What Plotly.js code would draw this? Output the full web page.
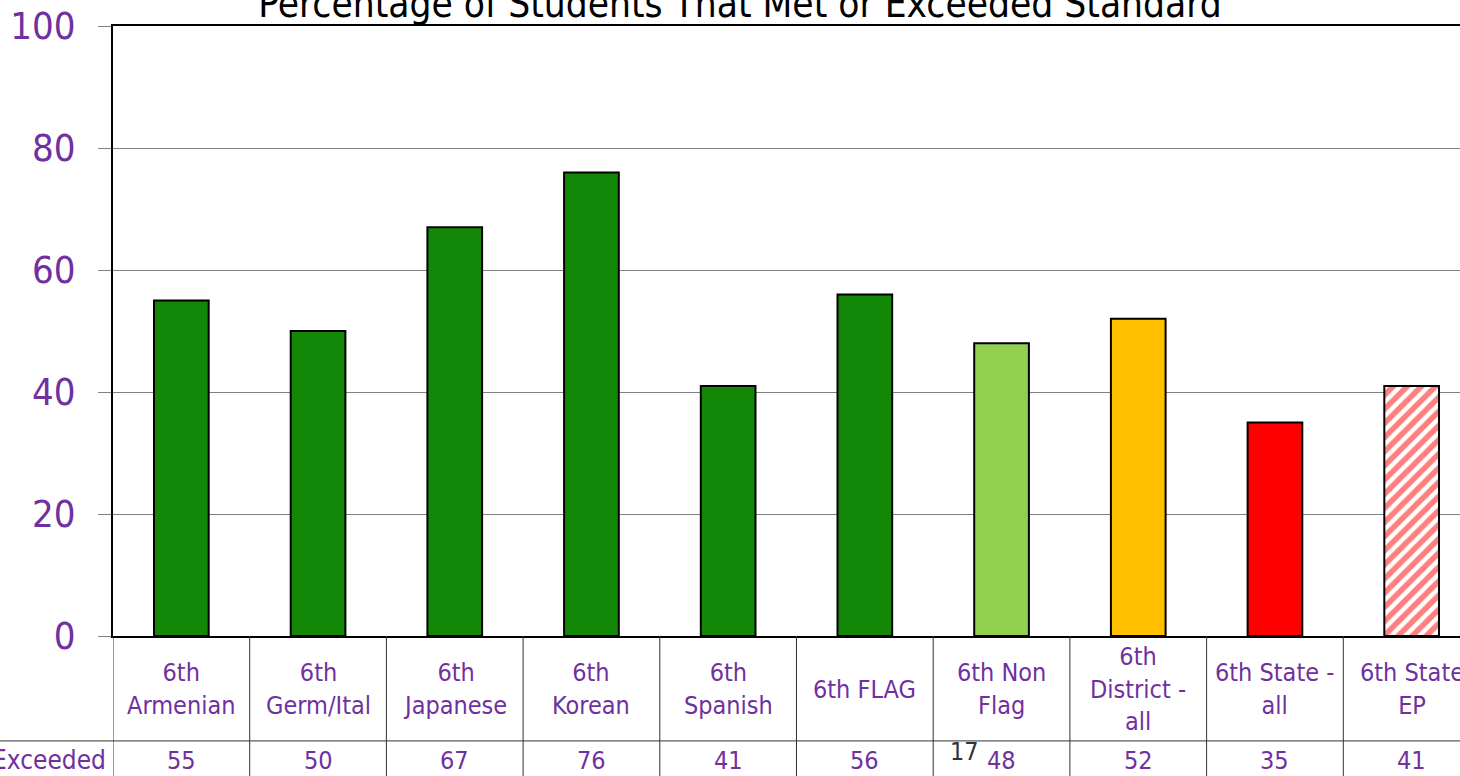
<!DOCTYPE html>
<html>
<head>
<meta charset="utf-8">
<script src="https://cdn.plot.ly/plotly-3.0.1.min.js"></script>
<style>
html,body{margin:0;padding:0;overflow:hidden;background:#fff;width:1460px;height:776px;}
#chart{width:1480px;height:776px;}
</style>
</head>
<body>
<div id="chart"></div>
<script>
const categories = ['6th Armenian','6th Germ/Ital','6th Japanese','6th Korean','6th Spanish','6th FLAG','6th Non Flag','6th District - all','6th State - all','6th State EP'];
const tickLabels = ['6th<br>Armenian','6th<br>Germ/Ital','6th<br>Japanese','6th<br>Korean','6th<br>Spanish','6th FLAG','6th Non<br>Flag','6th<br>District -<br>all','6th State -<br>all','6th State<br>EP'];
const values = [55,50,67,76,41,56,48,52,35,41];
const barColors = ['#138808','#138808','#138808','#138808','#138808','#138808','#92D050','#FFC000','#FF0000','#FFFFFF'];
const hatched = [false,false,false,false,false,false,false,false,false,true];
const rowLabel = 'Exceeded';
const strayNote = '17';
const titleText = 'Percentage of Students That Met or Exceeded Standard';

const purple = '#7030A0';
const font = 'DejaVu Sans Condensed, DejaVu Sans, sans-serif';

const solidIdx = categories.map((c, i) => i).filter(i => !hatched[i]);
const hatchIdx = categories.map((c, i) => i).filter(i => hatched[i]);

const solidTrace = {
  type: 'bar',
  x: solidIdx.map(i => categories[i]),
  y: solidIdx.map(i => values[i]),
  width: 0.4,
  marker: {color: solidIdx.map(i => barColors[i]), line: {color: '#000', width: 2}},
  hoverinfo: 'x+y'
};
const hatchTrace = {
  type: 'bar',
  x: hatchIdx.map(i => categories[i]),
  y: hatchIdx.map(i => values[i]),
  width: 0.4,
  marker: {color: '#FFFFFF', line: {color: '#000', width: 2},
    pattern: {shape: '/', fgcolor: '#FF0000', bgcolor: '#FFFFFF', size: 10, solidity: 0.55, fillmode: 'overlay'}},
  hoverinfo: 'x+y'
};

const annotations = [];
const shapes = [];
categories.forEach((c, i) => {
  annotations.push({xref: 'x', yref: 'paper', x: c, y: -0.087, yanchor: 'middle', xanchor: 'center',
    text: tickLabels[i], showarrow: false, font: {family: font, size: 25, color: purple}});
  annotations.push({xref: 'x', yref: 'paper', x: c, y: -0.204, yanchor: 'middle', xanchor: 'center',
    text: String(values[i]), showarrow: false, font: {family: font, size: 25, color: purple}});
  shapes.push({type: 'line', xref: 'x', yref: 'paper', x0: i - 0.5, x1: i - 0.5, y0: 0, y1: -0.24,
    line: {color: '#333', width: 1}});
});
shapes.push({type: 'line', xref: 'paper', yref: 'paper', x0: -0.09, x1: 1, y0: -0.172, y1: -0.172,
  line: {color: '#333', width: 1}});
annotations.push({xref: 'paper', yref: 'paper', x: -0.004, y: -0.204, xanchor: 'right', yanchor: 'middle',
  text: rowLabel, showarrow: false, font: {family: font, size: 26, color: purple}});
annotations.push({xref: 'x', yref: 'paper', x: categories[6], xshift: -37, y: -0.19, xanchor: 'center', yanchor: 'middle',
  text: strayNote, showarrow: false, font: {family: font, size: 25, color: '#333'}});

const layout = {
  width: 1480, height: 776,
  margin: {l: 113, r: 0, t: 26, b: 140, pad: 0},
  paper_bgcolor: '#fff', plot_bgcolor: '#fff',
  showlegend: false,
  barmode: 'overlay',
  title: {text: titleText, font: {family: font, size: 38.5, color: '#000'},
    x: 0.5, xref: 'container', y: 0.9956, yref: 'container', yanchor: 'middle'},
  xaxis: {type: 'category', categoryorder: 'array', categoryarray: categories, range: [-0.5, 9.5], showticklabels: false, ticks: '',
    showline: true, linecolor: '#000', linewidth: 2, mirror: true, showgrid: false, zeroline: false, fixedrange: true},
  yaxis: {range: [0, 100], tickvals: [0, 20, 40, 60, 80, 100], ticks: 'outside', ticklen: 13, tickcolor: '#808080', tickwidth: 1,
    ticklabelstandoff: 15,
    tickfont: {family: font, size: 38, color: purple},
    showline: true, linecolor: '#000', linewidth: 2, mirror: false,
    showgrid: true, gridcolor: '#808080', gridwidth: 1, zeroline: false, fixedrange: true},
  annotations: annotations,
  shapes: shapes
};

Plotly.newPlot('chart', [solidTrace, hatchTrace], layout, {displayModeBar: false, staticPlot: true});
</script>
</body>
</html>
